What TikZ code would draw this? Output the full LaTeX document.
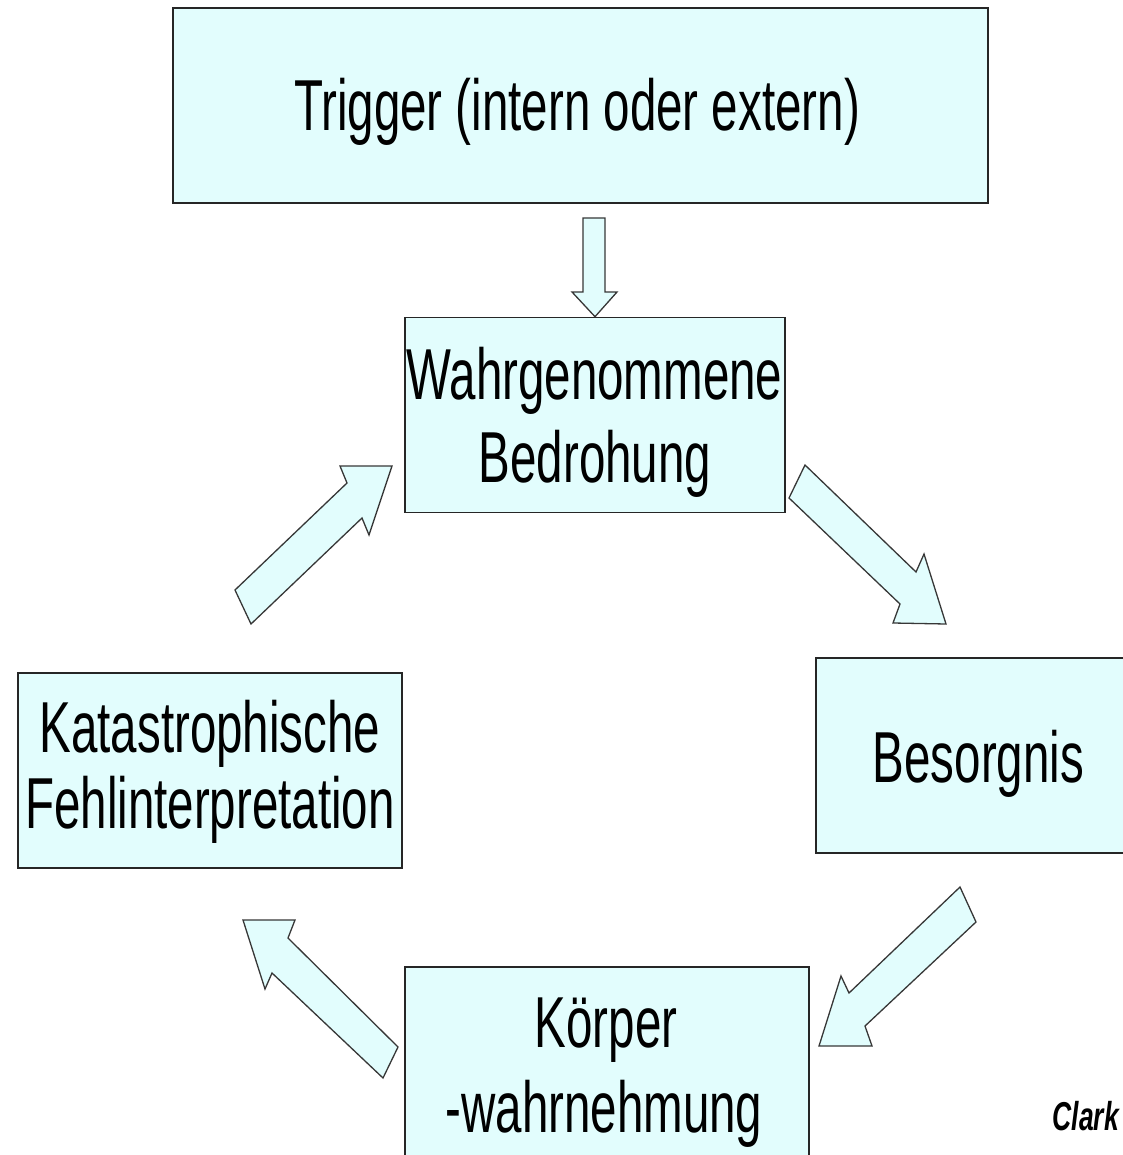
\documentclass[tikz,border=0pt]{standalone}
\usepackage{fontspec}
\setmainfont{Liberation Sans}
\usepackage{graphicx}
\definecolor{boxfill}{RGB}{226,253,253}
\definecolor{arrowline}{RGB}{55,55,55}
\newcommand{\tall}[1]{\scalebox{1}[1.52]{#1}}

\begin{document}
\begin{tikzpicture}[
  x=1pt, y=-1pt,
  box/.style={draw=black!85, line width=1.6pt, fill=boxfill, inner sep=0pt, minimum height=195pt},
  txt/.style={anchor=base, inner sep=0pt, font=\fontsize{47.5}{57}\selectfont},
  blockarrow/.style={draw=arrowline, line width=1.3pt, fill=boxfill, line join=miter}
]
\useasboundingbox (0,0) rectangle (1122,1155);

% boxes
\node[box, minimum width=815pt] (trigger) at (580.5,105.5) {};
\node[box, minimum width=380pt] (threat) at (595,415) {};
\node[box, minimum width=314pt] (worry) at (973,755.5) {};
\node[box, minimum width=404pt, minimum height=198pt] (body) at (607,1066) {};
\node[box, minimum width=384pt] (catas) at (210,770.5) {};

% texts
\node[txt] (triggerA) at (577,131) {\tall{Trigger (intern oder extern)}};
\node[txt] (threatA) at (594.5,399) {\tall{Wahrgenommene}};
\node[txt] (threatB) at (595,482) {\tall{Bedrohung}};
\node[txt] (worryA) at (978.5,782) {\tall{Besorgnis}};
\node[txt] (bodyA) at (606,1047) {\tall{Körper}};
\node[txt] (bodyB) at (604,1132) {\tall{-wahrnehmung}};
\node[txt] (catasA) at (210,752) {\tall{Katastrophische}};
\node[txt] (catasB) at (210,828) {\tall{Fehlinterpretation}};
\node[anchor=base east, inner sep=0pt, font=\fontsize{26.5}{32}\selectfont\bfseries\itshape] (source) at (1119,1130) {\tall{Clark}};

% block arrows
\draw[blockarrow] (583,218) -- (605,218) -- (605,292) -- (617,292) -- (threat.north) -- (572,292) -- (583,292) -- cycle;
\draw[blockarrow] (805,465) -- (916,572) -- (924,554) -- (946,624) -- (893,623) -- (900,604) -- (789,498) -- cycle;
\draw[blockarrow] (960,887) -- (976,922) -- (865,1026) -- (872,1046) -- (819,1046) -- (841,976) -- (849,993) -- cycle;
\draw[blockarrow] (398,1047) -- (383,1078) -- (272,973) -- (265,989) -- (243,920) -- (295,920) -- (288,938) -- cycle;
\draw[blockarrow] (235,590) -- (347,483) -- (340,466) -- (392,466) -- (369,535) -- (362,518) -- (251,624) -- cycle;
\end{tikzpicture}
\end{document}
